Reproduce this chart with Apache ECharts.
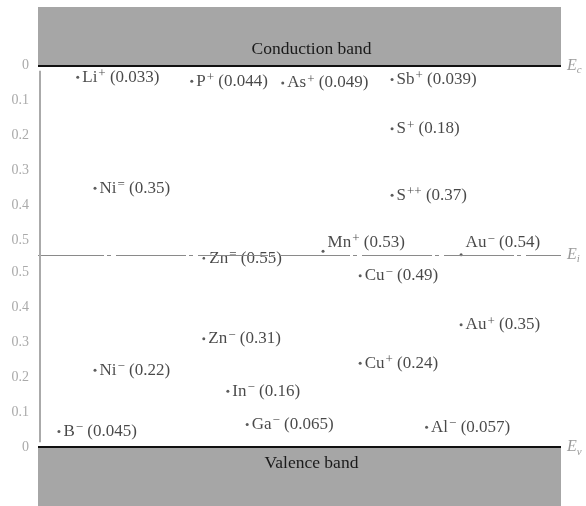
<!DOCTYPE html>
<html>
<head>
<meta charset="utf-8">
<script src="https://cdn.jsdelivr.net/npm/echarts@6/dist/echarts.min.js"></script>
<style>
  html, body { margin: 0; padding: 0; background: #fff; }
  #chart { width: 586px; height: 506px; }
</style>
</head>
<body>
<div id="chart"></div>
<script>
// Impurity levels in the silicon band gap (eV)
// Levels listed first are measured down from Ec, the rest up from Ev.
const species  = ['Li', 'P', 'As', 'Sb', 'S', 'S', 'Ni', 'Zn', 'Mn', 'Au',
                  'Cu', 'Au', 'Zn', 'Cu', 'Ni', 'In', 'Ga', 'Al', 'B'];
const charges  = ['+', '+', '+', '+', '+', '++', '=', '=', '+', '\u2212',
                  '\u2212', '+', '\u2212', '+', '\u2212', '\u2212', '\u2212', '\u2212', '\u2212'];
const energies = [0.033, 0.044, 0.049, 0.039, 0.18, 0.37, 0.35, 0.55, 0.53, 0.54,
                  0.49, 0.35, 0.31, 0.24, 0.22, 0.16, 0.065, 0.057, 0.045];
const measuredFrom = ['Ec', 'Ec', 'Ec', 'Ec', 'Ec', 'Ec', 'Ec', 'Ec', 'Ec', 'Ec',
                      'Ev', 'Ev', 'Ev', 'Ev', 'Ev', 'Ev', 'Ev', 'Ev', 'Ev'];
// horizontal slot of each level across the diagram (0..100)
const columns  = [7.6, 29.4, 46.8, 67.7, 67.7, 67.7, 10.9, 31.7, 54.5, 80.9,
                  61.6, 80.9, 31.7, 61.6, 10.9, 36.3, 40.0, 74.3, 4.0];
// energy tick labels, counted from each band edge
const tickValues = [0, 0.1, 0.2, 0.3, 0.4, 0.5];
const bandNames = ['Conduction band', 'Valence band'];

// drawing geometry
const EG = 1.09;      // gap drawn between Ec and Ev
const BAND = 0.168;   // visible depth of each band block
const SERIF = '"Liberation Serif", "Times New Roman", serif';

// per-label adjustments
const labelTweaks = {
  7: { backgroundColor: '#fff', padding: [0, 3, 0, 0], offset: [-2, 0] },
  8: { offset: [0, -9] },
  9: { offset: [0, -12] }
};

function levelLabel(i) {
  return '{b|' + species[i] + '}{s|' + charges[i] + '}{b| (' + energies[i] + ')}';
}

const richText = {
  b: { fontFamily: SERIF, fontSize: 17, color: '#1a1a1a', lineHeight: 20 },
  s: { fontFamily: SERIF, fontSize: 13, color: '#1a1a1a', lineHeight: 10, verticalAlign: 'top', padding: [0, 0, 0, 1] }
};

function seriesData(edge) {
  const out = [];
  for (let i = 0; i < species.length; i++) {
    if (measuredFrom[i] !== edge) continue;
    const item = { value: [columns[i], energies[i]], idx: i };
    const t = labelTweaks[i];
    if (t) {
      item.label = Object.assign({}, t);
      if (i === 7) item.itemStyle = { borderColor: '#fff', borderWidth: 6 };
    }
    out.push(item);
  }
  return out;
}

const edgeRich = {
  e: { fontFamily: SERIF, fontStyle: 'italic', fontSize: 16, color: '#9a9a9a', lineHeight: 20 },
  sub: { fontFamily: SERIF, fontStyle: 'italic', fontSize: 11, color: '#9a9a9a', lineHeight: 10, verticalAlign: 'bottom' }
};

function edgeLabel(sub) {
  return { show: true, position: 'end', distance: 6, formatter: '{e|E}{sub|' + sub + '}', rich: edgeRich };
}

const yAxisBase = {
  type: 'value',
  min: -BAND,
  max: EG + BAND,
  position: 'left',
  axisLine: { show: false },
  axisTick: { show: false },
  splitLine: { show: false },
  axisLabel: {
    customValues: tickValues,
    formatter: v => String(v),
    color: '#aaaaaa',
    fontFamily: SERIF,
    fontSize: 14,
    margin: 9
  }
};

const chart = echarts.init(document.getElementById('chart'), null, { renderer: 'canvas' });

chart.setOption({
  animation: false,
  backgroundColor: '#fff',
  grid: { left: 38, right: 25, top: 7, bottom: 0 },
  xAxis: { type: 'value', min: 0, max: 100, show: false },
  yAxis: [
    Object.assign({}, yAxisBase),                    // counted up from Ev
    Object.assign({}, yAxisBase, { inverse: true })  // counted down from Ec
  ],
  series: [
    {
      // bands, band edges, intrinsic level and energy axis
      type: 'scatter',
      xAxisIndex: 0, yAxisIndex: 0,
      data: [],
      silent: true,
      clip: false,
      z: 1,
      markArea: {
        silent: true,
        itemStyle: { color: '#a6a6a6', opacity: 1 },
        label: { fontFamily: SERIF, fontSize: 17.5, color: '#1a1a1a', offset: [12, 0] },
        data: [
          [{ yAxis: EG, name: bandNames[0], label: { position: 'insideBottom', distance: 7 } },
           { yAxis: EG + BAND }],
          [{ yAxis: -BAND, name: bandNames[1], label: { position: 'insideTop', distance: 7 } },
           { yAxis: 0 }]
        ]
      },
      markLine: {
        silent: true,
        symbol: ['none', 'none'],
        data: [
          { yAxis: EG, lineStyle: { color: '#111', width: 2, type: 'solid' }, label: edgeLabel('c') },
          { yAxis: 0, lineStyle: { color: '#111', width: 2, type: 'solid' }, label: edgeLabel('v') },
          { yAxis: EG / 2, lineStyle: { color: '#8a8a8a', width: 1, type: [70, 3, 4, 5], dashOffset: 4 },
            label: edgeLabel('i') },
          [{ coord: [0.3, 0.014], lineStyle: { color: '#aaaaaa', width: 2, type: 'solid' }, label: { show: false } },
           { coord: [0.3, EG - 0.014] }]
        ]
      }
    },
    {
      // levels measured from the conduction band edge
      type: 'scatter',
      yAxisIndex: 1,
      symbol: 'circle',
      symbolSize: 3,
      itemStyle: { color: '#333' },
      z: 3,
      data: seriesData('Ec'),
      label: {
        show: true, position: 'right', distance: 3,
        formatter: p => levelLabel(p.data.idx),
        rich: richText
      }
    },
    {
      // levels measured from the valence band edge
      type: 'scatter',
      yAxisIndex: 0,
      symbol: 'circle',
      symbolSize: 3,
      itemStyle: { color: '#333' },
      z: 3,
      data: seriesData('Ev'),
      label: {
        show: true, position: 'right', distance: 3,
        formatter: p => levelLabel(p.data.idx),
        rich: richText
      }
    }
  ]
});
</script>
</body>
</html>
